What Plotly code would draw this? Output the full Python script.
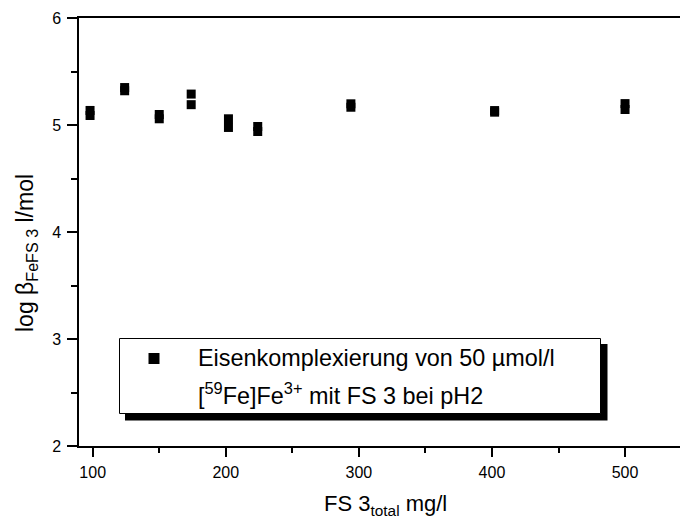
import plotly.graph_objects as go

# ---- data ----
fs3_total = [98, 98, 124, 124, 150, 150, 174, 174, 202, 202, 224, 224, 294, 294, 402, 402, 500, 500]
log_beta = [5.136, 5.089, 5.35, 5.32, 5.098, 5.058, 5.289, 5.19, 5.058, 4.977,
            4.986, 4.939, 5.198, 5.166, 5.135, 5.12, 5.20, 5.145]
x_ticks = [100, 200, 300, 400, 500]
y_ticks = [2, 3, 4, 5, 6]
legend_line1 = "Eisenkomplexierung von 50 µmol/l"
legend_line2 = "[<sup>59</sup>Fe]Fe<sup>3+</sup> mit FS 3 bei pH2"
x_title = "FS 3<sub>total</sub> mg/l"
y_title = "log β<sub>FeFS 3</sub> l/mol"

W, H = 680, 523
L, T, R, B = 79, 18, 680, 446  # plot area in pixels
FONT = "Arial, Liberation Sans, sans-serif"


def px_x(px):
    return (px - L) / (R - L)


def px_y(py):
    return (B - py) / (B - T)


fig = go.Figure()
fig.add_trace(go.Scatter(
    x=fs3_total, y=log_beta, mode="markers",
    marker=dict(symbol="square", size=9, color="black", line=dict(width=0)),
    showlegend=False, cliponaxis=False,
))

axis_common = dict(
    showgrid=False, zeroline=False, showline=True, linecolor="black", linewidth=1.5,
    ticks="outside", tickcolor="black", tickwidth=1.5,
    tickfont=dict(family=FONT, size=16, color="black"),
)

fig.update_layout(
    width=W, height=H,
    margin=dict(l=L, r=W - R, t=T, b=H - B),
    paper_bgcolor="white", plot_bgcolor="white",
    xaxis=dict(range=[89.7, 541.3], tickvals=x_ticks, ticklen=9, mirror=True,
               minor=dict(dtick=50, tick0=0, ticks="outside", ticklen=5, tickcolor="black", tickwidth=1.5),
               ticklabelstandoff=2, **axis_common),
    yaxis=dict(range=[2, 6], tickvals=y_ticks, ticklen=10,
               minor=dict(dtick=0.5, tick0=0, ticks="outside", ticklen=6, tickcolor="black", tickwidth=1.5),
               ticklabelstandoff=3, **axis_common),
    xaxis2=dict(range=[89.7, 541.3], overlaying="x", side="top", anchor="y",
                showgrid=False, zeroline=False, showline=False, showticklabels=False,
                ticks="inside", ticklen=2, tickcolor="black", tickwidth=1.5,
                tickvals=[100, 150, 200, 250, 300, 350, 400, 450, 500]),
)

# legend box (manual, with drop shadow)
fig.add_shape(type="rect", xref="paper", yref="paper",
              x0=px_x(125), x1=px_x(607.5), y0=px_y(420.5), y1=px_y(344),
              fillcolor="black", line=dict(width=0), layer="above")
fig.add_shape(type="rect", xref="paper", yref="paper",
              x0=px_x(119.5), x1=px_x(600.5), y0=px_y(413.5), y1=px_y(338.5),
              fillcolor="white", line=dict(color="black", width=1), layer="above")
fig.add_shape(type="rect", xref="paper", yref="paper",
              x0=px_x(148.5), x1=px_x(159.5), y0=px_y(364), y1=px_y(353),
              fillcolor="black", line=dict(width=0), layer="above")

fig.add_annotation(xref="paper", yref="paper", x=px_x(196), y=px_y(358),
                   xanchor="left", yanchor="middle", showarrow=False,
                   text=legend_line1, font=dict(family=FONT, size=23.4, color="black"))
fig.add_annotation(xref="paper", yref="paper", x=px_x(196), y=px_y(394),
                   xanchor="left", yanchor="middle", showarrow=False,
                   text=legend_line2, font=dict(family=FONT, size=23.4, color="black"))

# axis titles
fig.add_annotation(xref="paper", yref="paper", x=px_x(385), y=px_y(505),
                   xanchor="center", yanchor="middle", showarrow=False,
                   text=x_title, font=dict(family=FONT, size=22, color="black"))
fig.add_annotation(xref="paper", yref="paper", x=px_x(26), y=px_y(253),
                   xanchor="center", yanchor="middle", showarrow=False, textangle=-90,
                   text=y_title, font=dict(family=FONT, size=23, color="black"))

fig.write_html("out.html")
